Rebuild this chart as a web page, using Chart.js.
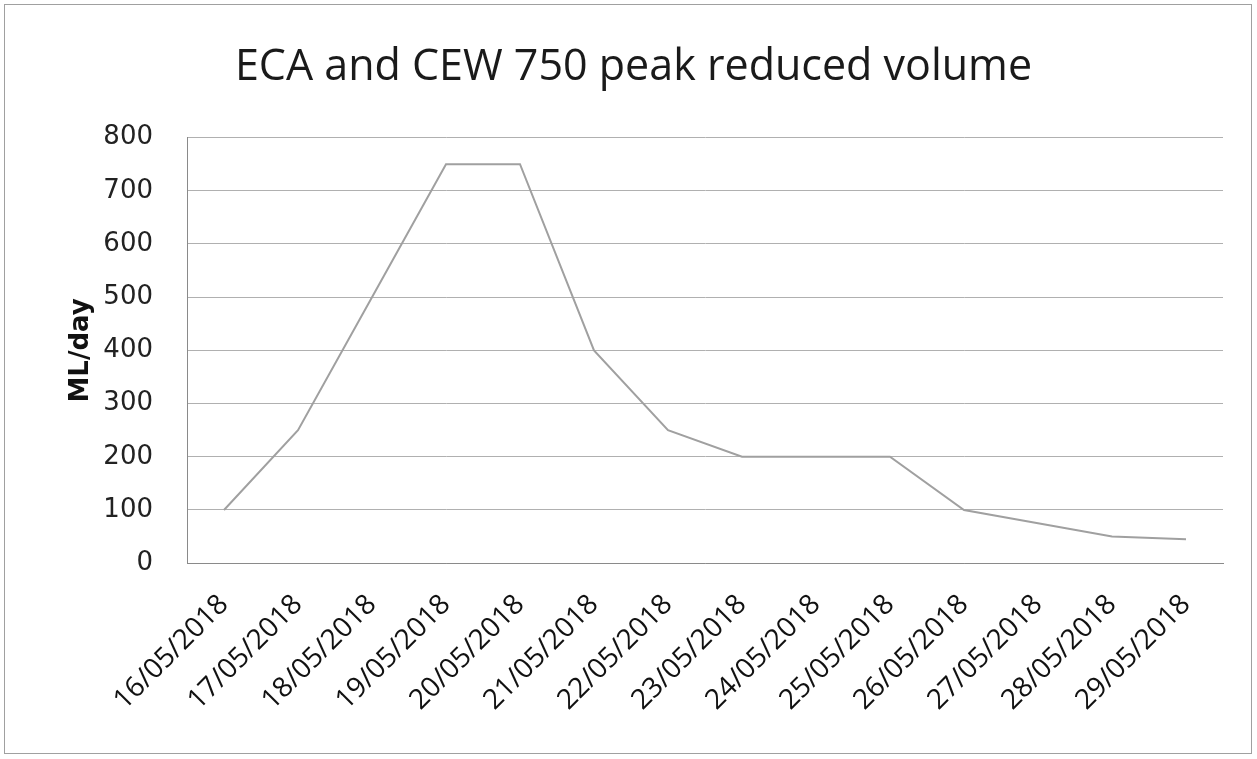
<!DOCTYPE html>
<html>
<head>
<meta charset="utf-8">
<script src="https://cdn.jsdelivr.net/npm/chart.js@4"></script>
<style>
    body { margin: 0; background: #fff; }
    #frame {
        position: absolute; left: 4px; top: 4px;
        width: 1246px; height: 748px;
        border: 1px solid #a0a0a0;
    }
    #wrap { position: absolute; left: 0; top: 0; width: 1257px; height: 759px; }
</style>
</head>
<body>
<div id="frame"></div>
<div id="wrap"><canvas id="chart"></canvas></div>
<script>
// Chart data
const dates = [
    '16/05/2018', '17/05/2018', '18/05/2018', '19/05/2018', '20/05/2018',
    '21/05/2018', '22/05/2018', '23/05/2018', '24/05/2018', '25/05/2018',
    '26/05/2018', '27/05/2018', '28/05/2018', '29/05/2018'
];
const volumes = [100, 250, 500, 750, 750, 400, 250, 200, 200, 200, 100, 75, 50, 45];
const yTicks = [0, 100, 200, 300, 400, 500, 600, 700, 800];

const titleText = 'ECA and CEW 750 peak reduced volume';
const yAxisTitle = 'ML/day';

const ctx = document.getElementById('chart');

new Chart(ctx, {
    type: 'line',
    data: {
        labels: dates,
        datasets: [{
            label: titleText,
            data: volumes,
            borderColor: '#a0a0a0',
            borderWidth: 2,
            pointRadius: 0,
            tension: 0,
            fill: false
        }]
    },
    options: {
        responsive: true,
        maintainAspectRatio: false,
        animation: false,
        layout: {
            padding: { left: 44, right: 34, top: 20, bottom: 17 }
        },
        plugins: {
            legend: { display: false },
            tooltip: { enabled: false },
            title: {
                display: true,
                text: titleText,
                color: '#1a1a1a',
                font: { family: '"Open Sans", sans-serif', size: 43, weight: 'normal' },
                padding: { top: 22, bottom: 44 }
            }
        },
        scales: {
            x: {
                offset: true,
                grid: { display: false, drawTicks: false },
                border: { display: true, color: '#8a8a8a', width: 1 },
                // rotated labels may hang past the plot's left edge, like the original
                afterFit: axis => {
                    axis.paddingLeft = 0;
                    axis.paddingRight = 0;
                },
                ticks: {
                    color: '#111',
                    font: { family: '"Open Sans", sans-serif', size: 28 },
                    maxRotation: 45,
                    minRotation: 45,
                    autoSkip: false,
                    padding: 25
                }
            },
            y: {
                min: 0,
                max: 800,
                afterBuildTicks: axis => {
                    axis.ticks = yTicks.map(v => ({ value: v }));
                },
                // fixed axis width so the plot starts where the original does
                afterFit: axis => {
                    axis.width = 143;
                },
                grid: { color: '#b0b0b0', lineWidth: 1, drawTicks: false },
                border: { display: true, color: '#8a8a8a', width: 1 },
                title: {
                    display: true,
                    text: yAxisTitle,
                    color: '#111',
                    font: { family: '"DejaVu Sans", sans-serif', size: 26, weight: 'bold' },
                    padding: { top: 22, bottom: 6 }
                },
                ticks: {
                    color: '#222',
                    font: { family: '"DejaVu Sans", sans-serif', size: 26 },
                    padding: 34
                }
            }
        }
    }
});
</script>
</body>
</html>
